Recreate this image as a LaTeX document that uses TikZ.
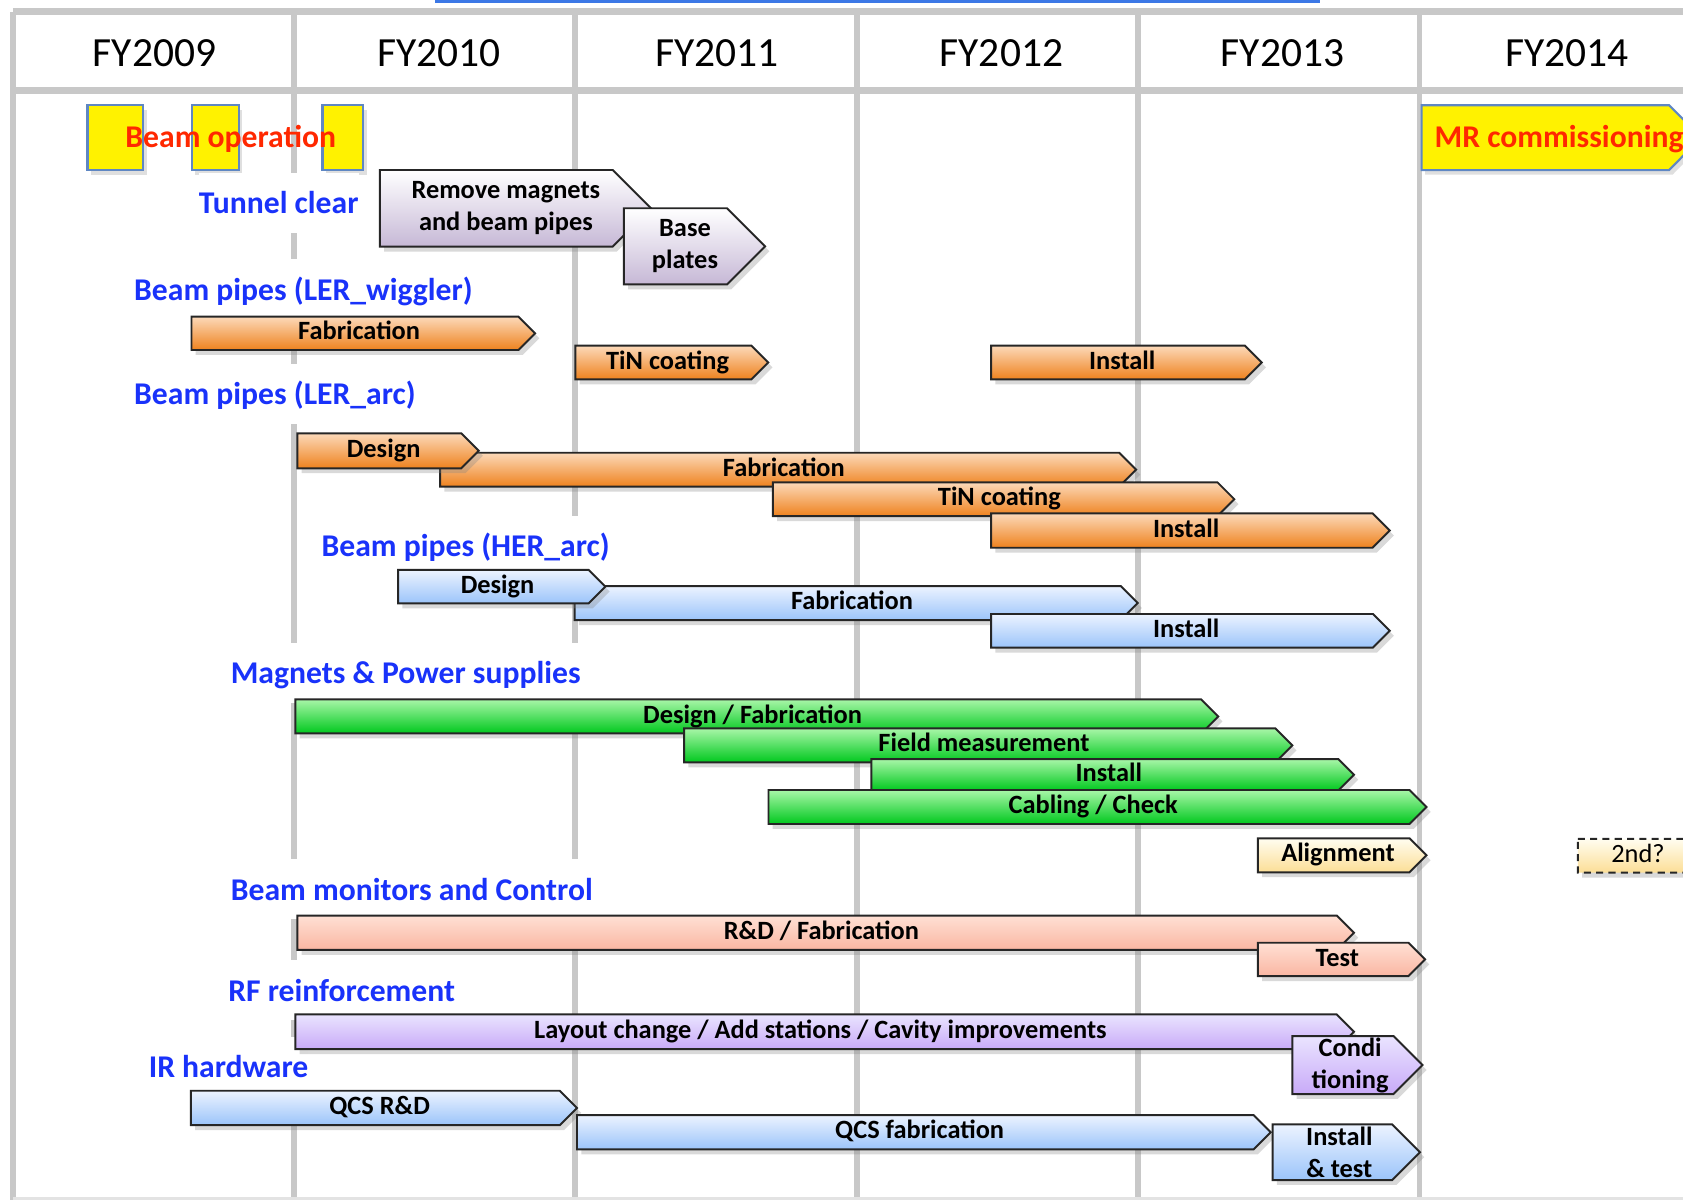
\documentclass[tikz,border=0pt]{standalone}
\usepackage{fontspec}
\setmainfont{Carlito}
\usepackage{tikz}
\usetikzlibrary{shadows}

\definecolor{gridgray}{RGB}{200,200,200}
\definecolor{stripblue}{RGB}{60,120,230}
\definecolor{labelblue}{RGB}{25,50,250}
\definecolor{opred}{RGB}{255,40,0}
\definecolor{boxedge}{RGB}{95,135,195}
\definecolor{orangeT}{RGB}{252,217,185}
\definecolor{orangeB}{RGB}{238,130,30}
\definecolor{blueT}{RGB}{236,243,255}
\definecolor{blueB}{RGB}{155,196,250}
\definecolor{greenT}{RGB}{168,246,168}
\definecolor{greenB}{RGB}{0,200,30}
\definecolor{salmonT}{RGB}{255,224,212}
\definecolor{salmonB}{RGB}{250,182,162}
\definecolor{purpleT}{RGB}{234,228,255}
\definecolor{purpleB}{RGB}{200,170,248}
\definecolor{mauveT}{RGB}{255,255,255}
\definecolor{mauveB}{RGB}{198,184,214}
\definecolor{creamT}{RGB}{255,253,240}
\definecolor{creamB}{RGB}{252,222,150}

\tikzset{
  gridline/.style={gridgray, line width=1.7pt},
  yearlabel/.style={font=\fontsize{11.8}{14}\selectfont, anchor=base, inner sep=0pt},
  grouplabel/.style={font=\fontsize{9}{11}\selectfont\bfseries, text=labelblue, fill=white,
    anchor=base west, inner xsep=0pt, inner ysep=3pt, text height=8.56pt, text depth=2.48pt},
  oplabel/.style={font=\fontsize{9}{11}\selectfont\bfseries, text=opred, inner sep=0pt},
  yellowbox/.style={fill=yellow, draw=boxedge, line width=0.6pt,
    drop shadow={shadow xshift=1pt, shadow yshift=-1.3pt, opacity=0.25}},
  bar/.style={draw=black!85, line width=0.55pt,
    drop shadow={shadow xshift=1.2pt, shadow yshift=-1.4pt, opacity=0.3}},
  bartext/.style={font=\fontsize{7.5}{9.1}\selectfont\bfseries, inner sep=0pt,
    text height=4.75pt, text depth=1pt},
  twoline/.style={text height=, text depth=, align=center},
  orangebar/.style={bar, top color=orangeT, bottom color=orangeB},
  bluebar/.style={bar, top color=blueT, bottom color=blueB},
  greenbar/.style={bar, top color=greenT, bottom color=greenB},
  salmonbar/.style={bar, top color=salmonT, bottom color=salmonB},
  purplebar/.style={bar, top color=purpleT, bottom color=purpleB},
  mauvebar/.style={bar, top color=mauveT, bottom color=mauveB},
  creambar/.style={bar, top color=creamT, bottom color=creamB}
}

% [text options]{name}{style}{x start}{x tip}{top}{bottom}{text}
\newcommand{\phasebar}[8][]{%
  \draw[#3] (#4,#6) -- ({#5-(#7-#6)/2},#6) -- (#5,{(#6+#7)/2})
    -- ({#5-(#7-#6)/2},#7) -- (#4,#7) -- cycle;
  \node[bartext,#1] (#2) at ({(#4+#5-(#7-#6)/4)/2},{(#6+#7)/2}) {#8};
}

\begin{document}
\begin{tikzpicture}[x=0.010733cm, y=-0.010733cm]
  \useasboundingbox (0,0) rectangle (1568,1118);
  \clip (0,0) rectangle (1568,1118);
  \fill[stripblue] (405,0) rectangle (1230,2.5);

  % grid
  \draw[gridline, line width=1.9pt] (12,11) -- (1568,11);
  \draw[gridline, line width=1.9pt] (12,84.5) -- (1568,84.5);
  \draw[gridline] (12.5,11) -- (12.5,1118);
  \draw[gridline] (273.5,11) -- (273.5,1118);
  \draw[gridline] (536,11) -- (536,1118);
  \draw[gridline] (798,11) -- (798,1118);
  \draw[gridline] (1060,11) -- (1060,1118);
  \draw[gridline] (1322.5,11) -- (1322.5,1118);
  \draw[gridgray!50, line width=1pt] (12,1116.5) -- (1568,1116.5);

  \node[yearlabel] (fy09) at (144,62) {FY2009};
  \node[yearlabel] (fy10) at (409,62) {FY2010};
  \node[yearlabel] (fy11) at (668,62) {FY2011};
  \node[yearlabel] (fy12) at (933,62) {FY2012};
  \node[yearlabel] (fy13) at (1195,62) {FY2013};
  \node[yearlabel] (fy14) at (1460,62) {FY2014};

  % beam operation and commissioning
  \draw[yellowbox] (81.5,98) rectangle (133.5,158.5);
  \draw[yellowbox] (178.5,98) rectangle (222.5,158.5);
  \draw[yellowbox] (300.5,98) rectangle (338.5,158.5);
  \node[oplabel, anchor=base] (beamop) at (215,137.5) {Beam operation};
  \draw[yellowbox] (1324.5,98) -- (1555,98) -- (1585,128) -- (1555,158.5) -- (1324.5,158.5) -- cycle;
  \node[oplabel, anchor=base west] (mrcomm) at (1336,137.5) {MR commissioning};

  % group labels
  \node[grouplabel] (tunnel) at (184.6,199) {Tunnel clear};
  \node[grouplabel] (lerwig) at (124.4,279.5) {Beam pipes (LER\_wiggler)};
  \node[grouplabel] (lerarc) at (124.4,377.3) {Beam pipes (LER\_arc)};
  \node[grouplabel] (herarc) at (299,518.6) {Beam pipes (HER\_arc)};
  \node[grouplabel] (magnets) at (214.4,636.7) {Magnets \& Power supplies};
  \node[grouplabel] (monitors) at (214.4,838.5) {Beam monitors and Control};
  \node[grouplabel] (rf) at (212,932.7) {RF reinforcement};
  \node[grouplabel] (ir) at (138,1004) {IR hardware};

  % bars
  \phasebar[twoline]{remove}{mauvebar}{354}{606.5}{158.4}{229.8}{Remove magnets\\and beam pipes}
  \phasebar[twoline]{plates}{mauvebar}{581.3}{712.8}{194}{265}{Base\\plates}

  \phasebar{wigfab}{orangebar}{178.4}{498.5}{295}{326.1}{Fabrication}
  \phasebar{wigtin}{orangebar}{536}{715.8}{322}{353.4}{TiN coating}
  \phasebar{wiginst}{orangebar}{923.4}{1175.5}{322}{353.4}{Install}

  \phasebar{lerfab}{orangebar}{410}{1058.5}{421.8}{453.4}{Fabrication}
  \phasebar{lerdes}{orangebar}{277}{446}{403.7}{436.3}{Design}
  \phasebar{lertin}{orangebar}{720}{1150}{449.4}{480.8}{TiN coating}
  \phasebar{lerinst}{orangebar}{923.4}{1294.8}{478.3}{510.3}{Install}

  \phasebar{herfab}{bluebar}{535.4}{1060}{546}{577.7}{Fabrication}
  \phasebar{herdes}{bluebar}{371}{564}{531}{562.1}{Design}
  \phasebar{herinst}{bluebar}{923.4}{1294.8}{572}{603.4}{Install}

  \phasebar{magdes}{greenbar}{275.2}{1135}{651.6}{683.3}{Design / Fabrication}
  \phasebar{magfield}{greenbar}{637.3}{1204}{678.6}{710.3}{Field measurement}
  \phasebar{maginst}{greenbar}{811.9}{1261.5}{707.2}{736.5}{Install}
  \phasebar{magcab}{greenbar}{716}{1329}{736}{767.7}{Cabling / Check}
  \phasebar{magalign}{creambar}{1172}{1329}{781}{812.7}{Alignment}
  \phasebar[font=\fontsize{7.5}{9.1}\selectfont]{magsecond}{creambar, dash pattern=on 2pt off 1.5pt}{1470}{1590}{781.6}{813}{2nd?}

  \phasebar{bmrd}{salmonbar}{277}{1261.5}{853.1}{885}{R\&D / Fabrication}
  \phasebar{bmtest}{salmonbar}{1172}{1327.7}{878.3}{909.4}{Test}

  \phasebar{rflayout}{purplebar}{275.2}{1261.5}{945}{977.4}{Layout change / Add stations / Cavity improvements}
  \phasebar[twoline]{rfcond}{purplebar}{1204}{1325.3}{965.3}{1019.3}{Condi\\tioning}

  \phasebar{irrd}{bluebar}{177.8}{537.6}{1016.2}{1048.2}{QCS R\&D}
  \phasebar{irfab}{bluebar}{537.6}{1184}{1038.9}{1070.8}{QCS fabrication}
  \phasebar[twoline]{irinst}{bluebar}{1185.6}{1323}{1047.6}{1099.4}{Install\\\& test}
\end{tikzpicture}
\end{document}
